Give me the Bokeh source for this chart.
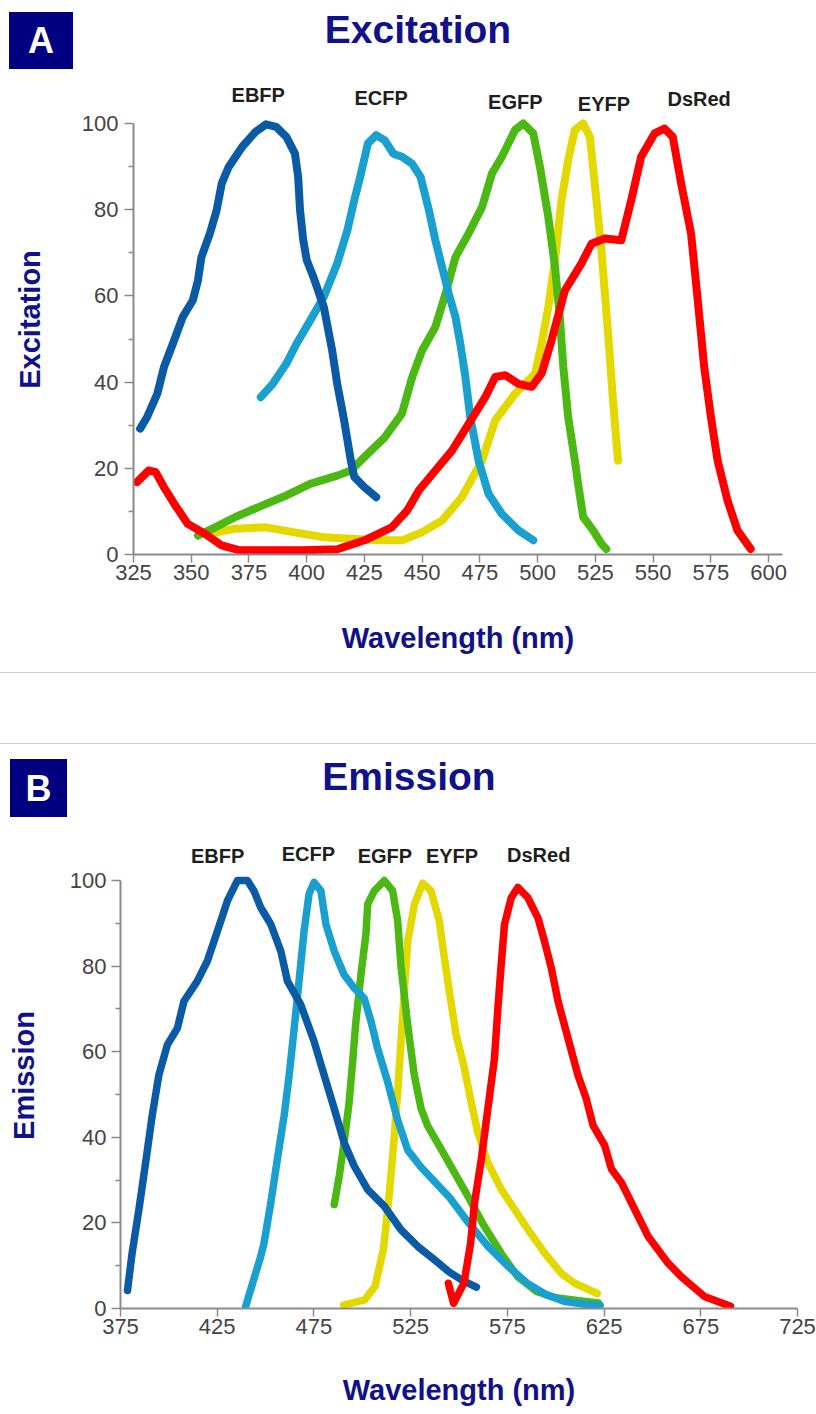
from bokeh.plotting import figure
from bokeh.models import Div, Range1d, FixedTicker
from bokeh.layouts import column
from bokeh.embed import file_html
from bokeh.resources import INLINE
from bokeh.core.properties import value

FONT = "Liberation Sans"
NAVY = "#11118a"

# ---------------- data ----------------
series_names = ["EBFP", "ECFP", "EGFP", "EYFP", "DsRed"]
series_colors = ["#0a5aa5", "#19a0cf", "#4cb814", "#e3d800", "#fe0000"]

# Excitation spectra (wavelength nm, relative excitation)
ex_ebfp_x = [327.9, 330.9, 335.3, 338.2, 342.6, 346.3, 350.7, 352.9, 354.4, 358.1, 361.0, 363.2, 366.2, 372.1, 377.9,
             382.4, 386.8, 391.2, 394.9, 396.3, 397.1, 398.5, 400.0, 402.9, 407.4, 411.0, 413.2, 416.2, 419.1, 420.6,
             425.0, 430.1]
ex_ebfp_y = [29.2, 31.9, 37.3, 43.5, 49.7, 55.1, 59.0, 63.6, 69.0, 74.5, 79.9, 86.1, 89.9, 94.6, 98.1,
             99.8, 99.2, 96.9, 93.0, 87.6, 79.9, 72.9, 68.3, 64.4, 57.4, 47.4, 39.6, 31.1, 21.8, 18.0,
             15.6, 13.3]

ex_ecfp_x = [380.1, 385.3, 391.2, 395.6, 401.5, 407.4, 413.2, 417.6, 420.6, 423.5, 426.5, 430.1, 433.8, 437.5, 441.2,
             445.6, 449.3, 452.9, 455.7, 458.6, 461.5, 464.4, 466.5, 468.7, 470.8, 474.4, 478.7, 484.5, 491.7, 498.1]
ex_ecfp_y = [36.5, 39.6, 44.3, 48.9, 54.3, 59.8, 67.5, 75.2, 82.2, 88.4, 95.4, 97.3, 96.1, 93.0, 92.3,
             90.7, 87.6, 79.9, 72.9, 66.7, 60.5, 55.1, 48.9, 41.2, 31.9, 21.8, 14.1, 9.4, 5.6, 3.3]

ex_egfp_x = [352.9, 360.3, 369.1, 380.9, 391.2, 401.5, 413.2, 419.1, 426.5, 433.8, 441.2, 445.7, 450.0, 455.7, 460.1,
             464.4, 470.1, 475.9, 480.2, 484.5, 490.2, 493.8, 498.1, 501.0, 504.6, 507.5, 509.6, 511.1, 513.2, 516.1,
             517.5, 519.7, 524.0, 527.6, 529.7]
ex_egfp_y = [4.4, 6.3, 8.7, 11.4, 13.7, 16.4, 18.3, 19.5, 23.4, 27.2, 32.7, 41.2, 47.4, 52.8, 60.5,
             69.0, 74.5, 80.6, 88.4, 92.3, 98.5, 100.0, 97.7, 89.9, 78.3, 66.7, 55.1, 43.5, 31.9, 21.8,
             16.4, 8.7, 5.6, 2.5, 1.3]

ex_eyfp_x = [357.4, 369.1, 382.4, 394.1, 407.4, 420.6, 432.4, 441.4, 450.0, 458.6, 467.2, 475.9, 481.6, 490.2,
             498.9, 501.7, 504.6, 507.5, 510.3, 513.2, 516.1, 519.7, 522.6, 524.7, 527.6, 530.5, 532.6, 534.8]
ex_eyfp_y = [4.8, 6.0, 6.3, 5.2, 4.0, 3.6, 3.3, 3.3, 5.2, 7.9, 13.3, 21.8, 31.1, 37.3,
             42.0, 48.9, 57.4, 68.3, 82.2, 91.5, 98.5, 100.0, 96.9, 86.1, 70.6, 51.2, 35.8, 21.8]

ex_dsred_x = [326.5, 331.6, 334.6, 338.2, 342.6, 348.5, 355.9, 363.2, 370.6, 383.8, 398.5, 413.2, 425.0, 436.8, 443.5,
              448.6, 455.7, 462.9, 470.1, 477.3, 481.6, 485.9, 491.7, 497.4, 501.7, 506.0, 511.8, 518.9, 523.3, 529.0,
              536.2, 540.5, 544.8, 550.6, 554.9, 558.5, 562.1, 566.4, 569.3, 572.1, 575.0, 577.9, 582.2, 586.5, 592.2]
ex_dsred_y = [16.8, 19.5, 19.1, 15.6, 11.8, 7.1, 4.8, 2.1, 1.0, 1.0, 1.0, 1.2, 3.3, 6.3, 10.2,
              14.9, 19.5, 24.1, 30.3, 36.5, 41.2, 41.6, 39.6, 38.9, 42.0, 49.7, 61.3, 67.5, 72.1, 73.3,
              72.9, 82.2, 92.3, 97.7, 98.8, 96.9, 86.1, 74.5, 59.0, 43.5, 31.9, 21.8, 12.5, 5.6, 1.3]

# Emission spectra
em_ebfp_x = [378.6, 381.0, 384.5, 388.0, 391.4, 394.8, 399.2, 404.4, 407.8, 414.7, 419.9, 425.1, 430.3, 435.4, 440.6,
             444.0, 447.5, 452.7, 457.9, 461.3, 468.2, 475.1, 480.3, 485.5, 490.6, 495.8, 502.8, 511.4, 520.0, 528.7,
             537.0, 545.0, 552.0, 559.0]
em_ebfp_y = [4.2, 12.9, 23.1, 34.1, 45.1, 54.5, 61.6, 65.5, 71.8, 76.5, 81.2, 88.2, 95.3, 100.0, 100.0,
             97.6, 93.7, 89.8, 83.5, 76.5, 71.0, 62.4, 54.5, 46.7, 38.8, 33.3, 27.8, 23.9, 18.4, 14.5,
             11.5, 8.5, 6.5, 5.0]

em_ecfp_x = [439.7, 447.5, 449.2, 452.7, 456.1, 459.6, 462.2, 464.8, 467.3, 469.9, 472.5, 475.1, 478.6, 481.2, 485.5,
             490.6, 495.8, 501.0, 504.5, 507.9, 513.1, 518.3, 523.5, 530.4, 545.0, 555.0, 565.0, 575.0, 585.0, 595.0,
             605.0, 615.0, 623.0]
em_ecfp_y = [0.5, 12.2, 15.3, 24.7, 34.9, 45.1, 54.5, 65.5, 76.5, 88.2, 96.9, 99.6, 97.6, 89.8, 83.5,
             78.0, 74.9, 72.5, 67.1, 60.8, 53.0, 44.0, 37.0, 33.0, 26.0, 20.0, 14.5, 10.0, 6.0, 3.2,
             1.6, 1.0, 0.7]

em_egfp_x = [485.5, 488.1, 490.6, 493.2, 495.0, 496.7, 499.3, 501.9, 502.8, 506.2, 511.4, 515.7, 518.3, 520.0,
             523.5, 526.9, 530.4, 533.8, 540.7, 547.6, 554.5, 563.1, 571.8, 580.4, 590.0, 600.0, 612.0, 622.0]
em_egfp_y = [24.3, 31.0, 38.8, 48.2, 57.6, 67.1, 78.0, 87.5, 94.5, 97.6, 100.0, 97.6, 90.6, 80.0,
             66.2, 54.5, 46.7, 42.7, 37.3, 31.8, 26.3, 19.2, 12.9, 7.4, 4.0, 2.5, 1.8, 1.3]

em_eyfp_x = [490.4, 501.2, 506.6, 511.0, 514.0, 516.5, 518.5, 520.0, 521.7, 523.5, 526.9, 531.2, 535.5, 539.8,
             542.4, 545.0, 548.5, 552.8, 556.3, 559.7, 564.9, 571.8, 578.7, 585.6, 594.2, 602.9, 609.8, 621.5]
em_eyfp_y = [0.8, 2.0, 5.2, 14.0, 27.0, 40.0, 52.0, 62.4, 74.1, 85.8, 94.4, 99.4, 97.6, 90.6,
             82.0, 74.1, 64.0, 56.1, 48.2, 41.2, 34.1, 27.9, 23.2, 18.5, 13.0, 8.2, 5.9, 3.5]

em_dsred_x = [544.5, 547.2, 552.6, 556.0, 558.0, 561.5, 564.9, 568.3, 570.1, 571.8, 573.5, 577.0, 580.4, 585.6, 590.8,
              594.2, 597.7, 601.2, 606.3, 611.5, 615.8, 619.3, 625.3, 628.8, 634.0, 640.8, 647.7, 658.1, 665.0, 676.9,
              690.4]
em_dsred_y = [5.9, 1.2, 6.0, 15.3, 24.6, 34.8, 46.6, 58.3, 70.1, 80.3, 89.7, 96.0, 98.4, 96.0, 91.3,
              85.8, 79.6, 71.8, 63.2, 54.5, 49.0, 42.8, 38.1, 32.6, 29.4, 23.2, 16.9, 10.6, 7.4, 2.8,
              0.5]

# axes / ticks
ex_xticks = [325, 350, 375, 400, 425, 450, 475, 500, 525, 550, 575, 600]
em_xticks = [375, 425, 475, 525, 575, 625, 675, 725]
yticks = [0, 20, 40, 60, 80, 100]
yminor = [10, 30, 50, 70, 90]

# series label anchors (nm, value)
ex_label_x = [379.0, 432.2, 490.3, 528.7, 569.9]
ex_label_y = [106.6, 106.0, 105.1, 104.6, 105.7]
em_label_x = [425.2, 472.1, 511.7, 546.4, 591.2]
em_label_y = [105.8, 106.3, 105.8, 105.8, 106.0]


def style_axes(p, xb, xt, y_std, x_std, y_lab_std):
    p.outline_line_color = None
    p.grid.visible = False
    p.xaxis.bounds = xb
    p.yaxis.bounds = (0, 100)
    p.xaxis.ticker = FixedTicker(ticks=xt)
    p.yaxis.ticker = FixedTicker(ticks=yticks, minor_ticks=yminor)
    for ax in (p.xaxis[0], p.yaxis[0]):
        ax.axis_line_color = "#8a8a8a"
        ax.axis_line_width = 2
        ax.major_tick_line_color = "#8a8a8a"
        ax.major_tick_line_width = 1.5
        ax.minor_tick_line_color = "#8a8a8a"
        ax.minor_tick_line_width = 1.5
        ax.major_tick_in = 0
        ax.minor_tick_in = 0
        ax.major_label_text_font = FONT
        ax.major_label_text_font_size = "22px"
        ax.major_label_text_color = "#444444"
        ax.axis_label_text_font = FONT
        ax.axis_label_text_font_style = "bold"
        ax.axis_label_text_font_size = "29px"
        ax.axis_label_text_color = NAVY
    p.xaxis.major_tick_out = 8
    p.xaxis.minor_tick_line_color = None
    p.xaxis.major_label_standoff = 2
    p.xaxis.axis_label_standoff = x_std
    p.yaxis.major_tick_out = 9
    p.yaxis.minor_tick_out = 5
    p.yaxis.major_label_standoff = y_lab_std
    p.yaxis.axis_label_standoff = y_std
    try:
        p.frame_align = False
    except AttributeError:
        pass


def draw(p, xs, ys, lw, lx, ly):
    order = [3, 2, 1, 0, 4]
    for i in order:
        p.line(xs[i], ys[i], line_color=series_colors[i], line_width=lw,
               line_join="round", line_cap="round")
    p.text(x=lx, y=ly, text=series_names, text_font=value(FONT), text_font_style="bold",
           text_font_size="20px", text_align="center", text_baseline="middle", text_color="#1e1e1e")


def header(letter, title, h, box, letter_top, title_cx, title_top):
    bl, bt, bw, bh = box
    return Div(width=816, height=h, margin=(0, 0, 0, 0), text=f"""
<div style="position:relative;width:816px;height:{h}px;">
  <div style="position:absolute;left:{bl}px;top:{bt}px;width:{bw}px;height:{bh}px;background:#000080;"></div>
  <div style="position:absolute;left:{bl}px;top:{letter_top}px;width:{bw}px;text-align:center;
       font-family:'{FONT}',sans-serif;font-weight:bold;font-size:36px;line-height:36px;color:#ffffff;">{letter}</div>
  <div style="position:absolute;left:{title_cx - 200}px;top:{title_top}px;width:400px;text-align:center;
       font-family:'{FONT}',sans-serif;font-weight:bold;font-size:39px;line-height:39px;color:{NAVY};
       white-space:nowrap;">{title}</div>
</div>""")


# ---------------- panel A ----------------
head_a = header("A", "Excitation", 80, (9, 12, 64, 57), 23, 418, 10)

p1 = figure(width=816, height=590, x_range=Range1d(325, 606), y_range=Range1d(0, 109.05),
            output_backend="svg", toolbar_location=None,
            min_border_left=133, min_border_right=34, min_border_top=4, min_border_bottom=116)
style_axes(p1, (325, 606), ex_xticks, 33, 39, 6)
p1.xaxis.axis_label = "Wavelength (nm)"
p1.yaxis.axis_label = "Excitation"
draw(p1, [ex_ebfp_x, ex_ecfp_x, ex_egfp_x, ex_eyfp_x, ex_dsred_x],
     [ex_ebfp_y, ex_ecfp_y, ex_egfp_y, ex_eyfp_y, ex_dsred_y], 8, ex_label_x, ex_label_y)

sep = Div(width=816, height=76, margin=(0, 0, 0, 0), text="""
<div style="position:relative;width:816px;height:76px;">
  <div style="position:absolute;left:0;top:2px;width:816px;height:0;border-top:1px solid #d2d2d2;"></div>
  <div style="position:absolute;left:0;top:73px;width:816px;height:0;border-top:1px solid #d2d2d2;"></div>
</div>""")

# ---------------- panel B ----------------
head_b = header("B", "Emission", 94, (10, 13, 57, 58), 25, 409, 11)

p2 = figure(width=816, height=574, x_range=Range1d(375, 725), y_range=Range1d(0, 108.9),
            output_backend="svg", toolbar_location=None,
            min_border_left=120, min_border_right=19, min_border_top=2, min_border_bottom=106)
style_axes(p2, (375, 725), em_xticks, 27, 37, 5)
p2.xaxis.axis_label = "Wavelength (nm)"
p2.yaxis.axis_label = "Emission"
draw(p2, [em_ebfp_x, em_ecfp_x, em_egfp_x, em_eyfp_x, em_dsred_x],
     [em_ebfp_y, em_ecfp_y, em_egfp_y, em_eyfp_y, em_dsred_y], 7.5, em_label_x, em_label_y)

layout = column(head_a, p1, sep, head_b, p2, spacing=0)

open("out.html", "w").write(file_html(layout, INLINE))
